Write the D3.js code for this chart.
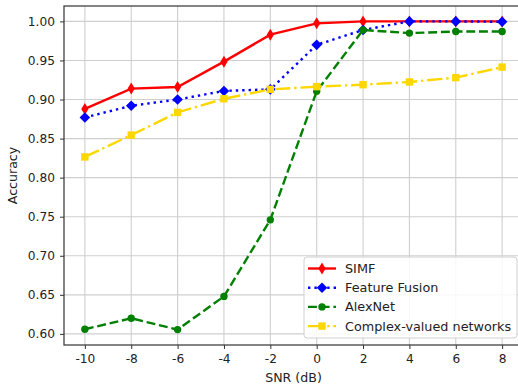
<!DOCTYPE html>
<html>
<head>
<meta charset="utf-8">
<script src="https://cdn.jsdelivr.net/npm/d3@7"></script>
<style>
  body { margin: 0; background: #fff; }
  svg { display: block; font-family: "DejaVu Sans", sans-serif; }
</style>
</head>
<body>
<div id="chart"></div>
<script>
// SNR values on the x axis
const snr = [-10, -8, -6, -4, -2, 0, 2, 4, 6, 8];

// accuracy per method
const simf = [0.888, 0.914, 0.916, 0.9485, 0.983, 0.9975, 1.0, 1.0, 1.0, 1.0];
const featureFusion = [0.877, 0.892, 0.900, 0.911, 0.913, 0.970, 0.989, 1.0, 1.0, 0.9995];
const alexNet = [0.606, 0.620, 0.6055, 0.648, 0.746, 0.9105, 0.989, 0.985, 0.987, 0.987];
const complexValued = [0.8265, 0.8545, 0.8835, 0.901, 0.913, 0.9165, 0.919, 0.9225, 0.928, 0.9415];

const xTicks = snr;
const yTicks = [0.60, 0.65, 0.70, 0.75, 0.80, 0.85, 0.90, 0.95, 1.00];

const width = 518, height = 387;
const mLeft = 64, mTop = 6, mRight = 523, mBottom = 345;

const svg = d3.select("#chart").append("svg")
    .attr("width", width)
    .attr("height", height);

const x = d3.scaleLinear().domain([-10.9, 8.9]).range([mLeft, mRight]);
const y = d3.scaleLinear().domain([0.5858, 1.0197]).range([mBottom, mTop]);

// grid
const grid = svg.append("g").attr("stroke", "#cfcfcf").attr("stroke-width", 1.1);
grid.selectAll(".gx").data(xTicks).join("line")
    .attr("x1", d => x(d)).attr("x2", d => x(d))
    .attr("y1", mTop).attr("y2", mBottom);
grid.selectAll(".gy").data(yTicks).join("line")
    .attr("x1", mLeft).attr("x2", mRight)
    .attr("y1", d => y(d)).attr("y2", d => y(d));

// axes (plain hyphen for negatives, like matplotlib output here)
const xAxis = svg.append("g")
    .attr("transform", `translate(0,${mBottom})`)
    .call(d3.axisBottom(x).tickValues(xTicks).tickSize(4).tickPadding(5).tickFormat(d => String(d)));
const yAxis = svg.append("g")
    .attr("transform", `translate(${mLeft},0)`)
    .call(d3.axisLeft(y).tickValues(yTicks).tickSize(4).tickPadding(5).tickFormat(d => d.toFixed(2)));

[xAxis, yAxis].forEach(a => {
    a.select(".domain").remove();
    a.selectAll("line").attr("stroke", "#333");
    a.selectAll("text").attr("fill", "#222").attr("font-size", 12.2)
        .attr("font-family", "DejaVu Sans, sans-serif");
});

// spines
svg.append("rect")
    .attr("x", mLeft).attr("y", mTop)
    .attr("width", mRight - mLeft).attr("height", mBottom - mTop)
    .attr("fill", "none").attr("stroke", "#333").attr("stroke-width", 1.2);

// labels
svg.append("text")
    .attr("x", (mLeft + mRight) / 2).attr("y", 382)
    .attr("text-anchor", "middle").attr("font-size", 12.6).attr("fill", "#222")
    .text("SNR (dB)");
svg.append("text")
    .attr("transform", `translate(17,${(mTop + mBottom) / 2}) rotate(-90)`)
    .attr("text-anchor", "middle").attr("font-size", 12.6).attr("fill", "#222")
    .text("Accuracy");

const series = [
    { name: "SIMF", values: simf, color: "red", dash: null, marker: "thin" },
    { name: "Feature Fusion", values: featureFusion, color: "blue", dash: "2.4,4", marker: "diamond" },
    { name: "AlexNet", values: alexNet, color: "green", dash: "8.9,3.8", marker: "circle" },
    { name: "Complex-valued networks", values: complexValued, color: "gold", dash: "15.4,3.8,2.4,3.8", marker: "square" }
];

function drawMarker(g, type, color) {
    if (type === "thin") {
        g.append("path").attr("d", "M0,-6L3.6,0L0,6L-3.6,0Z").attr("fill", color);
    } else if (type === "diamond") {
        g.append("path").attr("d", "M0,-5.3L5.3,0L0,5.3L-5.3,0Z").attr("fill", color);
    } else if (type === "circle") {
        g.append("circle").attr("r", 3.7).attr("fill", color);
    } else {
        g.append("rect").attr("x", -3.7).attr("y", -3.7).attr("width", 7.4).attr("height", 7.4).attr("fill", color);
    }
}

const line = d3.line().x((d, i) => x(snr[i])).y(d => y(d));

series.forEach(s => {
    svg.append("path")
        .attr("d", line(s.values))
        .attr("fill", "none")
        .attr("stroke", s.color)
        .attr("stroke-width", 2.4)
        .attr("stroke-dasharray", s.dash);
    s.values.forEach((v, i) => {
        const g = svg.append("g").attr("transform", `translate(${x(snr[i])},${y(v)})`);
        drawMarker(g, s.marker, s.color);
    });
});

// legend
const legend = svg.append("g");
legend.append("rect")
    .attr("x", 304).attr("y", 257).attr("width", 213).attr("height", 81)
    .attr("rx", 3)
    .attr("fill", "white").attr("fill-opacity", 0.85)
    .attr("stroke", "#d0d0d0");
series.forEach((s, i) => {
    const yy = 268.5 + i * 19.2;
    legend.append("line")
        .attr("x1", 308).attr("x2", 336).attr("y1", yy).attr("y2", yy)
        .attr("stroke", s.color).attr("stroke-width", 2.4)
        .attr("stroke-dasharray", s.dash);
    drawMarker(legend.append("g").attr("transform", `translate(322,${yy})`), s.marker, s.color);
    legend.append("text")
        .attr("x", 345).attr("y", yy).attr("dy", "0.35em")
        .attr("font-size", 12.8).attr("fill", "#222")
        .text(s.name);
});
</script>
</body>
</html>
